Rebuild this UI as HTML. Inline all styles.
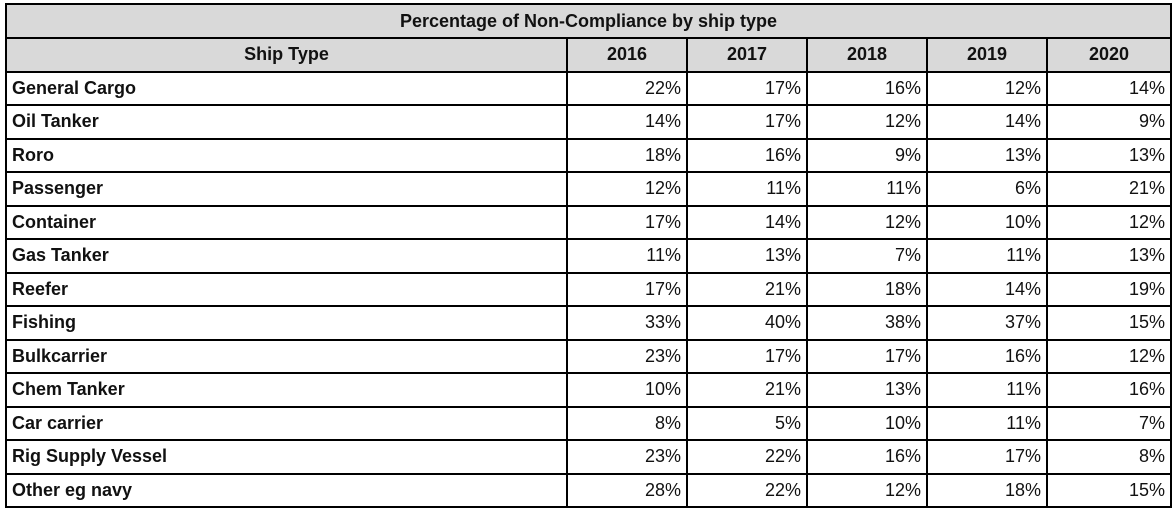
<!DOCTYPE html>
<html><head><style>
body{margin:0;background:#fff;width:1173px;height:514px;overflow:hidden;font-family:"Liberation Sans",Arial,sans-serif;}
table{position:absolute;left:5px;top:3px;border-collapse:collapse;table-layout:fixed;}
td{border:2px solid #000;height:31.5px;padding:0 5px;font-size:18px;color:#111;text-align:right;white-space:nowrap;overflow:hidden;}
td:first-child{text-align:left;font-weight:bold;}
tr.h td{background:#d9d9d9;font-weight:bold;text-align:center;}
</style></head><body>
<table>
<colgroup><col style="width:561px"><col style="width:120px"><col style="width:120px"><col style="width:120px"><col style="width:120px"><col style="width:124px"></colgroup>
<tr class="h"><td colspan="6" style="text-align:center;height:32px">Percentage of Non-Compliance by ship type</td></tr>
<tr class="h"><td style="text-align:center">Ship Type</td><td>2016</td><td>2017</td><td>2018</td><td>2019</td><td>2020</td></tr>
<tr><td>General Cargo</td><td>22%</td><td>17%</td><td>16%</td><td>12%</td><td>14%</td></tr>
<tr><td>Oil Tanker</td><td>14%</td><td>17%</td><td>12%</td><td>14%</td><td>9%</td></tr>
<tr><td>Roro</td><td>18%</td><td>16%</td><td>9%</td><td>13%</td><td>13%</td></tr>
<tr><td>Passenger</td><td>12%</td><td>11%</td><td>11%</td><td>6%</td><td>21%</td></tr>
<tr><td>Container</td><td>17%</td><td>14%</td><td>12%</td><td>10%</td><td>12%</td></tr>
<tr><td>Gas Tanker</td><td>11%</td><td>13%</td><td>7%</td><td>11%</td><td>13%</td></tr>
<tr><td>Reefer</td><td>17%</td><td>21%</td><td>18%</td><td>14%</td><td>19%</td></tr>
<tr><td>Fishing</td><td>33%</td><td>40%</td><td>38%</td><td>37%</td><td>15%</td></tr>
<tr><td>Bulkcarrier</td><td>23%</td><td>17%</td><td>17%</td><td>16%</td><td>12%</td></tr>
<tr><td>Chem Tanker</td><td>10%</td><td>21%</td><td>13%</td><td>11%</td><td>16%</td></tr>
<tr><td>Car carrier</td><td>8%</td><td>5%</td><td>10%</td><td>11%</td><td>7%</td></tr>
<tr><td>Rig Supply Vessel</td><td>23%</td><td>22%</td><td>16%</td><td>17%</td><td>8%</td></tr>
<tr><td>Other eg navy</td><td>28%</td><td>22%</td><td>12%</td><td>18%</td><td>15%</td></tr>
</table>
</body></html>
